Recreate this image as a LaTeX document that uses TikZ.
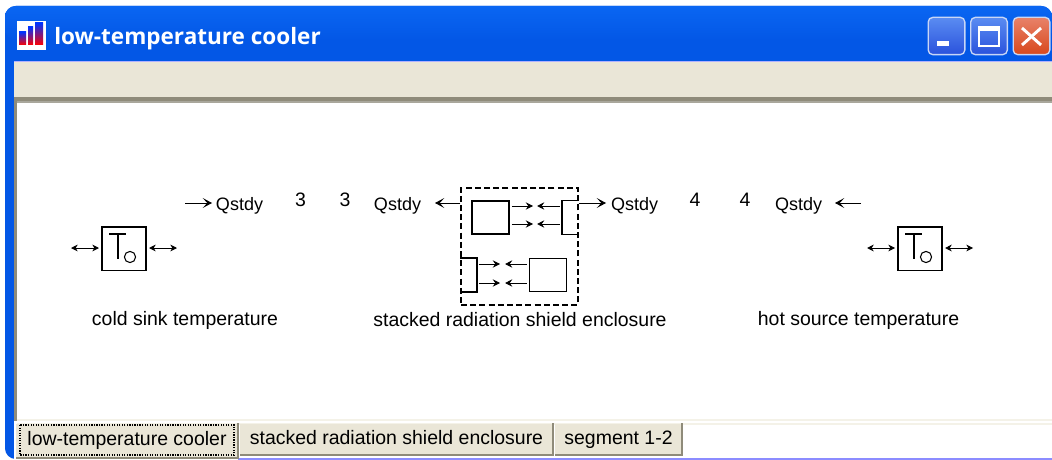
\documentclass[tikz,border=0pt]{standalone}
\usepackage{fontspec}
\setmainfont{Liberation Sans}
\newfontfamily\titlefont{Open Sans}[BoldFont={Open Sans Bold}]
\usetikzlibrary{arrows.meta,positioning}
\definecolor{titleblue}{HTML}{0357E6}
\definecolor{titletop}{HTML}{0A66F2}
\definecolor{paneltan}{HTML}{EAE6D7}
\definecolor{paneldark}{HTML}{8F8B7A}
\definecolor{panelpale}{HTML}{F4F2E8}
\definecolor{framegrey}{HTML}{A9A79C}
\definecolor{btntop}{HTML}{5A8CF2}
\definecolor{btnlow}{HTML}{2A52DC}
\definecolor{closetop}{HTML}{E8826A}
\definecolor{closelow}{HTML}{D8481C}
\definecolor{btnrim}{HTML}{C8D6F6}
\tikzset{
	lbl/.style={inner sep=0pt,font=\fontsize{14.6}{16}\selectfont},
	qlbl/.style={inner sep=0pt,font=\fontsize{13.5}{16}\selectfont},
	iconbox/.style={draw,line width=1pt,inner sep=0pt,minimum width=33pt,minimum height=32.5pt},
	plainbox/.style={draw,line width=1.2pt,inner sep=0pt,minimum width=28pt,minimum height=25pt},
	brk/.style={inner sep=0pt,minimum width=12pt,minimum height=25pt},
	shieldbox/.style={draw,line width=.9pt,dash pattern=on 4.5pt off 2.4pt,inner sep=0pt,minimum width=87.75pt,minimum height=87.75pt},
	wire/.style={line width=1.2pt},
	flow/.style={line width=.7pt,-{Stealth[length=5.5pt,width=5.5pt,inset=2pt]}},
	flowout/.style={line width=.7pt,-{Stealth[length=7pt,width=7.5pt,inset=3.5pt]}},
	flowtwo/.style={line width=.7pt,{Stealth[length=5pt,width=5pt,inset=1.5pt]}-{Stealth[length=5pt,width=5pt,inset=1.5pt]}},
	winbtn/.style={draw=btnrim,line width=1pt,rounded corners=3.5pt,inner sep=0pt,minimum width=27.5pt,minimum height=28pt},
	tabface/.style={fill=paneltan,inner sep=0pt,text height=10.6pt,text depth=3.1pt,font=\fontsize{14.6}{16}\selectfont},
	tabedge/.style={draw=paneldark,line width=1.3pt},
}
\newcommand{\tempglyph}[1]{
	\draw[line width=.8pt] ([shift={(-15,-14.5)}]#1.center)--([shift={(2,-14.5)}]#1.center);
	\draw[line width=.8pt] ([shift={(-6,-14.5)}]#1.center)--([shift={(-6,10.5)}]#1.center);
	\draw[line width=.8pt] ([shift={(6,8.5)}]#1.center) circle (4.2pt);
}
\begin{document}
\begin{tikzpicture}[x=.75pt,y=-.75pt]
	\useasboundingbox (0,0) rectangle (1052,460);
	\fill[white] (0,0) rectangle (1052,460);
	\fill[titleblue,rounded corners=8pt] (5,459)--(5,6)--(1052,6)--(1052,30)--(1052,459)--cycle;
	\shade[top color=titletop,bottom color=titleblue,rounded corners=8pt] (5,40)--(5,6)--(1052,6)--(1052,40)--cycle;
	\fill[white] (14,418) rectangle (1052,460);
	\fill[paneltan] (14,62) rectangle (1052,97);
	\draw[white!70!blue,line width=.6pt] (14,61.5)--(1052,61.5);
	\fill[paneldark] (14,97) rectangle (1052,101);
	\fill[white] (17,102) rectangle (1052,420);
	\fill[framegrey] (17,101) rectangle (1052,103);
	\fill[paneldark] (14,97) rectangle (17,421);
	\draw[panelpale,line width=1pt] (17,420)--(1052,420);
	\draw[panelpale,line width=1pt] (17,424)--(1052,424);
	\draw[blue!45!white,line width=.8pt] (238,459)--(1052,459);

	\node[inner sep=0pt,fill=white,minimum width=21.75pt,minimum height=21.75pt] (appicon) at (31.5,35.5) {};
	\foreach \xa/\xb/\yt in {19/26/32,28/33/27,35/43/23}{
		\shade[top color=blue!80!cyan,bottom color=red] (\xa,\yt) rectangle (\xb,45);
	}
	\node[anchor=west,inner sep=0pt,text=white,font=\titlefont\bfseries\fontsize{16.9}{20}\selectfont] (wintitle) at (54,39) {low-temperature cooler};

	\node[winbtn,top color=btntop,bottom color=btnlow] (btnmin) at (946.5,36) {};
	\node[winbtn,top color=btntop,bottom color=btnlow] (btnmax) at (989,36) {};
	\node[winbtn,top color=closetop,bottom color=closelow] (btnclose) at (1031.5,36) {};
	\fill[white] (937,41) rectangle (949,46);
	\draw[white,line width=1pt] (979,27) rectangle (999,46);
	\fill[white] (979,27) rectangle (999,31);
	\draw[white,line width=2.2pt] (1022,28)--(1041,45);
	\draw[white,line width=2.2pt] (1022,45)--(1041,28);

	\node[iconbox] (coldsink) at (124,248.5) {};
	\node[iconbox] (hotsource) at (920,248.5) {};
	\tempglyph{coldsink}
	\tempglyph{hotsource}
	\coordinate (coldL) at (71,248);
	\coordinate (coldR) at (177,248);
	\coordinate (hotL) at (867,248);
	\coordinate (hotR) at (973,248);
	\draw[flowtwo] (coldL)--(99,248);
	\draw[flowtwo] (149,248)--(coldR);
	\draw[flowtwo] (hotL)--(895,248);
	\draw[flowtwo] (945,248)--(hotR);

	\node[lbl] (coldlabel) at (185,320) {cold sink temperature};
	\node[lbl] (shieldlabel) at (520,320) {stacked radiation shield enclosure};
	\node[lbl] (hotlabel) at (858.5,320) {hot source temperature};

	\node[qlbl] (qone) at (239.5,206) {Qstdy};
	\node[qlbl] (qtwo) at (397.5,206) {Qstdy};
	\node[qlbl] (qthree) at (634.5,206) {Qstdy};
	\node[qlbl] (qfour) at (798.5,206) {Qstdy};
	\node[lbl] (nthreea) at (300.5,200) {3};
	\node[lbl] (nthreeb) at (345,200) {3};
	\node[lbl] (nfoura) at (695,200) {4};
	\node[lbl] (nfourb) at (745,200) {4};

	\node[shieldbox] (shield) at (519.5,246.5) {};
	\node[plainbox] (boxtop) at (490.5,217.5) {};
	\node[plainbox] (boxlow) at (548,275) {};
	\node[brk] (brktop) at (570,217.5) {};
	\node[brk] (brklow) at (468.5,275) {};
	\draw[wire] (brktop.north east)--(brktop.north west)--(brktop.south west)--(brktop.south east);
	\draw[wire] (brklow.north west)--(brklow.north east)--(brklow.south east)--(brklow.south west);

	\coordinate (qoneL) at (185,203);
	\coordinate (qtwoR) at (435,203);
	\coordinate (qthreeR) at (606,203);
	\coordinate (qfourR) at (835,203);
	\draw[flowout] (qoneL)--(212,203);
	\draw[flowout] (shield.west |- qtwoR)--(qtwoR);
	\draw[flowout] (shield.east |- qthreeR)--(qthreeR);
	\draw[flowout] (861,203)--(qfourR);

	\foreach \y/\n in {206/a,224/b}{
		\coordinate (mid\n) at (533,\y);
		\coordinate (end\n) at (537,\y);
		\draw[flow,shorten <=1.5pt] (boxtop.east |- mid\n)--(mid\n);
		\draw[flow,shorten <=1.5pt] (brktop.west |- end\n)--(end\n);
	}
	\foreach \y/\n in {264/c,283/d}{
		\coordinate (mid\n) at (500,\y);
		\coordinate (end\n) at (505,\y);
		\draw[flow,shorten <=1.5pt] (brklow.east |- mid\n)--(mid\n);
		\draw[flow,shorten <=1.5pt] (boxlow.west |- end\n)--(end\n);
	}

	\node[tabface,minimum width=166.5pt,minimum height=25.5pt] (tabone) at (127,440.5) {low-temperature cooler};
	\node[tabface,minimum width=234.75pt,minimum height=23.25pt] (tabtwo) at (396.5,439) {stacked radiation shield enclosure};
	\node[tabface,minimum width=95.25pt,minimum height=23.25pt] (tabthree) at (618.5,439) {segment 1-2};
	\draw[tabedge] (tabone.north east)--(tabone.south east)--(tabone.south west);
	\draw[tabedge] (tabtwo.north east)--(tabtwo.south east)--(tabtwo.south west);
	\draw[tabedge] (tabthree.north east)--(tabthree.south east)--(tabthree.south west);
	\draw[densely dotted,line width=.9pt] (20,425) rectangle (234,455);
\end{tikzpicture}
\end{document}
